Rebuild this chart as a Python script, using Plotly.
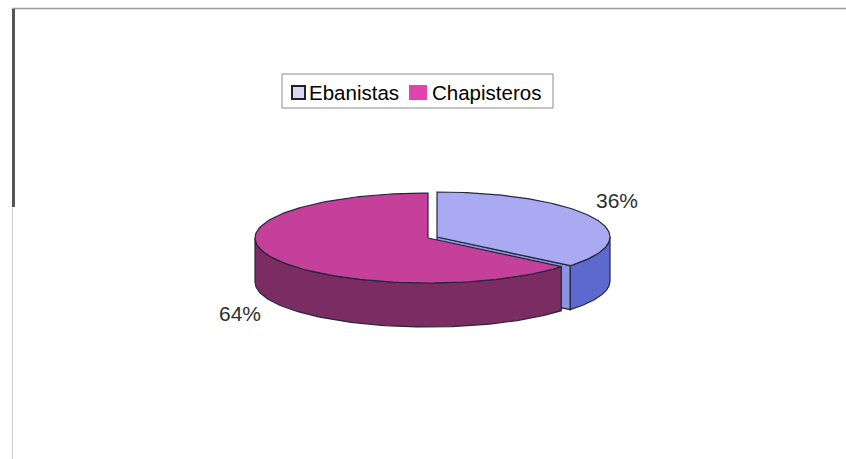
import numpy as np
import plotly.graph_objects as go

# Data
categories = ["Ebanistas", "Chapisteros"]
shares = [36, 64]
label_text = ["36%", "64%"]

# Styling
top_colors = ["#aaaaf2", "#c5409a"]
side_colors = ["#5d69cf", "#7b2d63"]
face_colors = ["#8a94e4", "#6a2656"]
legend_colors = ["#d8d8f4", "#e043ae"]
edge = "#26263a"
FONT = "Liberation Sans, Arial, sans-serif"

W, H = 846, 459
RX, RY, DEPTH = 173, 45, 44
centers = [(437, 237), (428, 238)]   # first slice pulled out slightly
label_pos = [(617, 200), (240, 313)]

# slice angle ranges: start at 12 o'clock, go clockwise (math angles, degrees)
ranges = []
start = 90.0
for v in shares:
    span = 360.0 * v / sum(shares)
    ranges.append((start - span, start))
    start -= span


def pt(c, t, dz=0.0):
    r = np.radians(t)
    return c[0] + RX * np.cos(r), c[1] - RY * np.sin(r) + dz


def arc(c, a, b, dz=0.0, n=120):
    ts = np.linspace(a, b, n)
    xs, ys = zip(*[pt(c, t, dz) for t in ts])
    return list(xs), list(ys)


def visible_front(a, b):
    # part of [a, b] (mod 360) lying on the front half 180..360
    spans = []
    for shift in (-360, 0, 360):
        lo, hi = max(a + shift, 180), min(b + shift, 360)
        if hi > lo:
            spans.append((lo, hi))
    return spans


fig = go.Figure()


def poly(xs, ys, fill, width=1.2):
    fig.add_trace(go.Scatter(
        x=xs + [xs[0]], y=ys + [ys[0]], mode="lines", fill="toself",
        fillcolor=fill, line=dict(color=edge, width=width),
        hoverinfo="skip", showlegend=False))


for i in range(len(shares)):
    c = centers[i]
    a, b = ranges[i]
    # radial cut face at the clockwise end if it faces the viewer
    na = (a - 90) % 360
    if 180 < na < 360:
        ex, ey = pt(c, a)
        poly([c[0], ex, ex, c[0]], [c[1], ey, ey + DEPTH, c[1] + DEPTH], face_colors[i])
    # outer wall
    for lo, hi in visible_front(a, b):
        tx, ty = arc(c, lo, hi)
        bx, by = arc(c, hi, lo, DEPTH)
        poly(tx + bx, ty + by, side_colors[i])
    # top face
    tx, ty = arc(c, a, b)
    poly([c[0]] + tx, [c[1]] + ty, top_colors[i])

# percentage labels
for (lx, ly), txt in zip(label_pos, label_text):
    fig.add_annotation(x=lx, y=ly, text=txt, showarrow=False,
                       font=dict(family=FONT, size=21, color="#2e2e2e"))

shapes = [
    # chart frame
    dict(type="line", x0=12, y0=8.5, x1=846, y1=8.5, line=dict(color="#9a9a9a", width=1.5)),
    dict(type="line", x0=13.5, y0=9, x1=13.5, y1=207, line=dict(color="#555555", width=3)),
    dict(type="line", x0=12.5, y0=207, x1=12.5, y1=459, line=dict(color="#d0d0d0", width=1)),
    # legend box
    dict(type="rect", x0=282, y0=74, x1=553, y1=108, line=dict(color="#8a8a8a", width=1),
         fillcolor="white"),
]
legend_sq = [(292, 86, 305, 99), (409, 85, 427, 100)]
legend_tx = [307, 430]
for i, name in enumerate(categories):
    x0, y0, x1, y1 = legend_sq[i]
    shapes.append(dict(type="rect", x0=x0, y0=y0, x1=x1, y1=y1,
                       fillcolor=legend_colors[i],
                       line=dict(color="#222222" if i == 0 else legend_colors[i], width=2 if i == 0 else 0)))
    fig.add_annotation(x=legend_tx[i], y=92, text=name, showarrow=False, xanchor="left",
                       font=dict(family=FONT, size=20.5, color="#000000"))

fig.update_layout(
    width=W, height=H, margin=dict(l=0, r=0, t=0, b=0),
    paper_bgcolor="white", plot_bgcolor="white", shapes=shapes,
    xaxis=dict(range=[0, W], visible=False, fixedrange=True),
    yaxis=dict(range=[H, 0], visible=False, fixedrange=True),
    showlegend=False,
)

fig.write_html("out.html")
